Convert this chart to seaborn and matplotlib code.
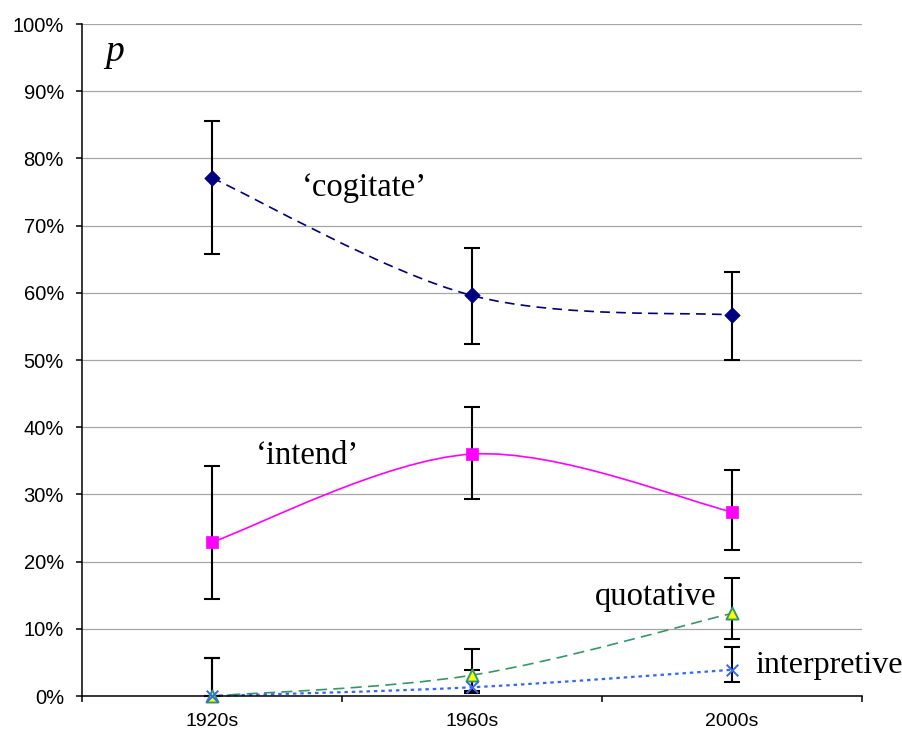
import numpy as np
import pandas as pd
import matplotlib
matplotlib.use("Agg")
import matplotlib.pyplot as plt
import seaborn as sns
from matplotlib.path import Path
from matplotlib.patches import PathPatch
from matplotlib.ticker import FixedLocator, FuncFormatter

# ---------------- data ----------------
periods = ["1920s", "1960s", "2000s"]

cogitate = [77.1, 59.6, 56.7]
cogitate_lo = [65.8, 52.4, 50.0]
cogitate_hi = [85.6, 66.7, 63.1]

intend = [22.9, 36.0, 27.4]
intend_lo = [14.4, 29.3, 21.7]
intend_hi = [34.2, 43.0, 33.6]

quotative = [0.0, 3.1, 12.3]
quotative_lo = [0.0, 0.8, 8.5]
quotative_hi = [5.6, 7.0, 17.5]

interpretive = [0.0, 1.3, 3.9]
interpretive_lo = [0.0, 0.5, 2.1]
interpretive_hi = [5.6, 3.9, 7.3]

y_ticks = [0, 10, 20, 30, 40, 50, 60, 70, 80, 90, 100]

# ---------------- style ----------------
sns.set_theme(style="white")
plt.rcParams['font.family'] = ['Liberation Sans', 'DejaVu Sans']
plt.rcParams['text.color'] = 'black'
plt.rcParams['xtick.color'] = 'black'
plt.rcParams['ytick.color'] = 'black'

fig = plt.figure(figsize=(9.02, 7.33), dpi=100)
ax = fig.add_axes([82 / 902, 1 - 696 / 733, 780 / 902, 672 / 733])

xpos = np.arange(len(periods))

def smooth_path(xs, ys):
    pts = np.column_stack([xs, ys]).astype(float)
    n = len(pts)
    verts = [pts[0]]
    codes = [Path.MOVETO]
    for i in range(n - 1):
        p0 = pts[i - 1] if i > 0 else pts[i]
        p1 = pts[i]
        p2 = pts[i + 1]
        p3 = pts[i + 2] if i + 2 < n else pts[i + 1]
        c1 = p1 + (p2 - p0) / 6.0
        c2 = p2 - (p3 - p1) / 6.0
        verts += [c1, c2, p2]
        codes += [Path.CURVE4] * 3
    return Path(verts, codes)

series = [
    dict(name="cogitate", v=cogitate, lo=cogitate_lo, hi=cogitate_hi,
         color="#000080", lw=1.2, ls=(0, (7.0 / 1.2, 4.5 / 1.2)),
         marker="D", s=62, fc="#000080", ec="#000080", mlw=0.5),
    dict(name="intend", v=intend, lo=intend_lo, hi=intend_hi,
         color="#FF00FF", lw=1.2, ls="-",
         marker="s", s=66, fc="#FF00FF", ec="#FF00FF", mlw=0.5),
    dict(name="quotative", v=quotative, lo=quotative_lo, hi=quotative_hi,
         color="#339966", lw=1.2, ls=(0, (8.0 / 1.2, 4.5 / 1.2)),
         marker="^", s=75, fc="#FFFF00", ec="#339966", mlw=1.4),
    dict(name="interpretive", v=interpretive, lo=interpretive_lo, hi=interpretive_hi,
         color="#3366FF", lw=1.6, ls=(0, (2.5 / 1.6, 2.8 / 1.6)),
         marker="x", s=70, fc="#3366FF", ec="#3366FF", mlw=1.4),
]

# smoothed connecting lines
for sr in series:
    patch = PathPatch(smooth_path(xpos, sr["v"]), facecolor="none",
                      edgecolor=sr["color"], lw=sr["lw"], linestyle=sr["ls"],
                      zorder=2, clip_on=False)
    ax.add_patch(patch)

# error bars
for sr in series:
    v = np.array(sr["v"])
    yerr = np.vstack([v - np.array(sr["lo"]), np.array(sr["hi"]) - v])
    eb = ax.errorbar(xpos, v, yerr=yerr, fmt="none", ecolor="black",
                     elinewidth=1.5, capsize=5.8, capthick=1.5, zorder=3)
    for art in list(eb.lines[1]) + list(eb.lines[2]):
        art.set_clip_on(False)

# markers via seaborn
for sr in series:
    df = pd.DataFrame({"x": xpos, "y": sr["v"]})
    if sr["marker"] == "x":
        sns.scatterplot(data=df, x="x", y="y", ax=ax, marker="x", s=sr["s"],
                        color=sr["color"], linewidth=sr["mlw"], zorder=4,
                        clip_on=False, legend=False)
    else:
        sns.scatterplot(data=df, x="x", y="y", ax=ax, marker=sr["marker"], s=sr["s"],
                        facecolor=sr["fc"], edgecolor=sr["ec"], linewidth=sr["mlw"],
                        zorder=4, clip_on=False, legend=False)

# ---------------- axes ----------------
ax.set_xlim(-0.5, len(periods) - 0.5)
ax.set_ylim(0, 100)
ax.set_xlabel("")
ax.set_ylabel("")

ax.yaxis.set_major_locator(FixedLocator(y_ticks))
ax.yaxis.set_major_formatter(FuncFormatter(lambda v, p: f"{int(round(v))}%"))
ax.xaxis.set_major_locator(FixedLocator(np.arange(len(periods) + 1) - 0.5))
ax.xaxis.set_major_formatter(FuncFormatter(lambda v, p: ""))
ax.set_xticks(xpos, minor=True)
ax.set_xticklabels(periods, minor=True)

ax.tick_params(axis="y", which="major", direction="out", length=4, width=1.1,
               color="black", labelcolor="black", labelsize=14.5, pad=9, left=True)
ax.tick_params(axis="x", which="major", direction="out", length=4, width=1.1,
               color="black", bottom=True)
ax.tick_params(axis="x", which="minor", length=0, labelsize=14, pad=12,
               labelcolor="black")

ax.grid(axis="y", color="#a6a6a6", lw=0.9)
ax.grid(axis="x", visible=False)
ax.set_axisbelow(True)

for side in ["top", "right"]:
    ax.spines[side].set_visible(False)
for side in ["left", "bottom"]:
    ax.spines[side].set_visible(True)
    ax.spines[side].set_color("black")
    ax.spines[side].set_linewidth(1.1)
ax.spines["bottom"].set_zorder(2.5)

# ---------------- annotations ----------------
serif = ["Liberation Serif", "DejaVu Serif"]
ax.text(-0.41, 95.8, "p", fontsize=27, fontstyle="italic", family=serif,
        ha="left", va="center", color="black")
ax.text(0.588, 75.6, "\u2018cogitate\u2019", fontsize=23.5, family=serif,
        ha="center", va="center", color="black")
ax.text(0.369, 35.7, "\u2018intend\u2019", fontsize=23.5, family=serif,
        ha="center", va="center", color="black")
ax.text(1.708, 14.8, "quotative", fontsize=23.5, family=serif,
        ha="center", va="center", color="black")
ax.text(2.088, 4.5, "interpretive", fontsize=23, family=serif,
        ha="left", va="center", color="black")

fig.savefig("out.png", dpi=100)
